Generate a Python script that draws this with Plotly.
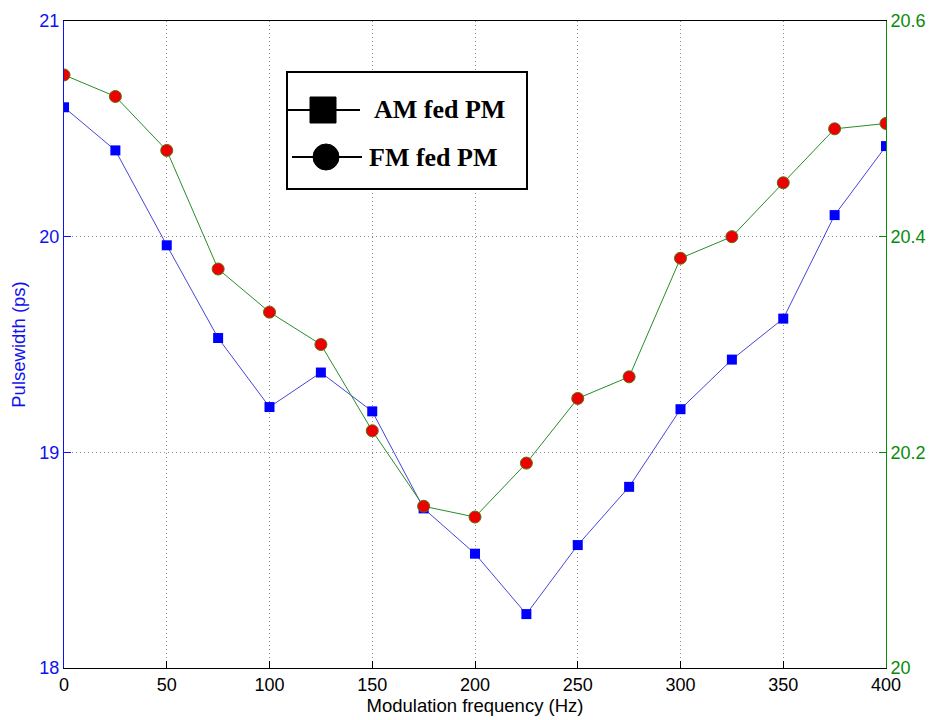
import plotly.graph_objects as go

# Modulation frequency sweep (Hz)
freq_hz = [0, 25, 50, 75, 100, 125, 150, 175, 200, 225, 250, 275, 300, 325, 350, 375, 400]

# Pulsewidth (ps) for the two mode-locking schemes
am_fed_pm = [20.60, 20.40, 19.96, 19.53, 19.21, 19.37, 19.19, 18.74, 18.53, 18.25,
             18.57, 18.84, 19.20, 19.43, 19.62, 20.10, 20.42]
fm_fed_pm = [20.55, 20.53, 20.48, 20.37, 20.33, 20.30, 20.22, 20.15, 20.14, 20.19,
             20.25, 20.27, 20.38, 20.40, 20.45, 20.50, 20.505]

x_ticks = [0, 50, 100, 150, 200, 250, 300, 350, 400]
left_ticks = [18, 19, 20, 21]
right_ticks = [20.0, 20.2, 20.4, 20.6]
right_tick_text = ["20", "20.2", "20.4", "20.6"]
legend_labels = ["AM fed PM", "FM fed PM"]

BLUE = "#1010f0"
GREEN = "#0a8a0a"
GRID = "#8c8c8c"
W, H = 937, 720
L, R, T, B = 64, 51, 21, 52
PW, PH = W - L - R, H - T - B


def px(x):
    return (x - L) / PW


def py(y):
    return (H - B - y) / PH


fig = go.Figure()
fig.add_trace(go.Scatter(
    x=freq_hz, y=am_fed_pm, mode="lines+markers", name=legend_labels[0],
    line=dict(color="rgb(70,70,215)", width=1),
    marker=dict(symbol="square", size=10, color="#0000ff", line=dict(color="#0000ff", width=0)),
    showlegend=False, yaxis="y"))
fig.add_trace(go.Scatter(
    x=freq_hz, y=fm_fed_pm, mode="lines+markers", name=legend_labels[1],
    line=dict(color="rgb(40,140,40)", width=1),
    marker=dict(symbol="circle", size=12, color="#ee0000", line=dict(color="rgb(90,110,20)", width=1)),
    showlegend=False, yaxis="y2"))

shapes = []
annotations = []
# legend box
shapes.append(dict(type="rect", xref="paper", yref="paper",
                   x0=px(287), x1=px(527), y0=py(189), y1=py(72),
                   line=dict(color="black", width=2), fillcolor="white", layer="above"))
# legend entries: sample line, marker and label
entries = [
    dict(y=110, lx0=287, lx1=360, cx=323, kind="rect", label=legend_labels[0], tx=372),
    dict(y=157, lx0=292, lx1=362, cx=326, kind="circle", label=legend_labels[1], tx=367),
]
for e in entries:
    shapes.append(dict(type="line", xref="paper", yref="paper",
                       x0=px(e["lx0"]), x1=px(e["lx1"]), y0=py(e["y"]), y1=py(e["y"]),
                       line=dict(color="black", width=2), layer="above"))
    shapes.append(dict(type=e["kind"], xref="paper", yref="paper",
                       xsizemode="pixel", ysizemode="pixel",
                       xanchor=px(e["cx"]), yanchor=py(e["y"]),
                       x0=-13, x1=13, y0=-13, y1=13,
                       fillcolor="black", line=dict(color="black", width=1), layer="above"))
    annotations.append(dict(xref="paper", yref="paper", x=px(e["tx"]), y=py(e["y"]),
                            xanchor="left", yanchor="middle", showarrow=False,
                            text="<b>%s</b>" % e["label"],
                            font=dict(family="Liberation Serif, Times New Roman, serif",
                                      size=26, color="black")))

fig.update_layout(
    width=W, height=H,
    margin=dict(l=L, r=R, t=T, b=B, pad=0),
    paper_bgcolor="white", plot_bgcolor="white",
    font=dict(family="Liberation Sans, Arial, sans-serif", size=18, color="black"),
    shapes=shapes, annotations=annotations,
    xaxis=dict(
        range=[0, 400], tickvals=x_ticks, ticks="inside", ticklen=7, tickcolor="black",
        showline=True, linecolor="black", linewidth=1, mirror=True,
        showgrid=True, gridcolor=GRID, griddash="1px,3px", gridwidth=1,
        zeroline=False, automargin=False,
        title=dict(text="Modulation frequency (Hz)", standoff=1,
                   font=dict(size=18.5, color="black")),
        tickfont=dict(size=18, color="black")),
    yaxis=dict(
        range=[18, 21], tickvals=left_ticks, ticks="inside", ticklen=7, tickcolor=BLUE,
        showline=True, linecolor=BLUE, linewidth=1,
        showgrid=True, gridcolor=GRID, griddash="1px,3px", gridwidth=1,
        zeroline=False, automargin=False,
        title=dict(text="Pulsewidth (ps)", standoff=8, font=dict(size=18.5, color=BLUE)),
        tickfont=dict(size=18, color=BLUE)),
    yaxis2=dict(
        range=[20, 20.6], tickvals=right_ticks, ticktext=right_tick_text,
        overlaying="y", side="right", ticks="inside", ticklen=7, tickcolor=GREEN,
        showline=True, linecolor=GREEN, linewidth=1,
        showgrid=False, zeroline=False, automargin=False,
        tickfont=dict(size=18, color=GREEN)),
)

fig.write_html("out.html")
